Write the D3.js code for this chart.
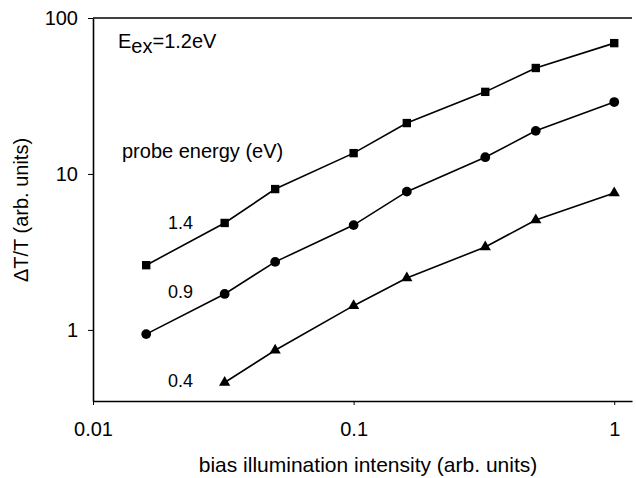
<!DOCTYPE html>
<html>
<head>
<meta charset="utf-8">
<script src="https://cdn.jsdelivr.net/npm/d3@7"></script>
<style>
  body { margin: 0; background: #fff; }
  text { font-family: "Liberation Sans", Arial, sans-serif; fill: #000; }
</style>
</head>
<body>
<div id="chart"></div>
<script>
// bias intensity (x) and dT/T for each probe energy
const intensity = [0.016, 0.032, 0.05, 0.1, 0.16, 0.32, 0.5, 1]
const probe14 = [2.6, 4.85, 8.0, 13.6, 21.2, 33.6, 47.8, 69]
const probe09 = [0.94, 1.7, 2.73, 4.7, 7.7, 12.8, 18.9, 28.9]
const probe04 = [null, 0.46, 0.74, 1.43, 2.15, 3.4, 5.07, 7.55]
const xTicks = [0.01, 0.1, 1]
const yTicks = [1, 10, 100]

const params = {
  width: 636,
  height: 478,
  marginTop: 18,
  marginLeft: 93,
  marginRight: 4,
  marginBottom: 77,
}

const svg = d3.select('#chart')
  .append('svg')
  .attr('width', params.width)
  .attr('height', params.height)

const x = d3.scaleLog()
  .domain([0.01, 1.17])
  .range([params.marginLeft, params.width - params.marginRight])

const y = d3.scaleLog()
  .domain([0.35, 100])
  .range([params.height - params.marginBottom, params.marginTop])

// axes
svg.append('g')
  .attr('transform', `translate(0,${params.height - params.marginBottom})`)
  .call(d3.axisBottom(x).tickValues(xTicks).tickFormat(d3.format('')).tickSize(4).tickSizeOuter(0))
  .call(g => g.selectAll('text').attr('font-size', 20).attr('y', 21).attr('dy', '0.71em'))

svg.append('g')
  .attr('transform', `translate(${params.marginLeft},0)`)
  .call(d3.axisLeft(y).tickValues(yTicks).tickFormat(d3.format('')).tickSize(5).tickSizeOuter(0))
  .call(g => g.selectAll('text').attr('font-size', 20).attr('x', -15))

svg.selectAll('.domain').attr('stroke-width', 1.6)

// top frame line
svg.append('line')
  .attr('x1', x(0.01)).attr('x2', x(1.17))
  .attr('y1', y(100)).attr('y2', y(100))
  .attr('stroke', '#000')
  .attr('stroke-width', 1.4)

const series = [
  { values: probe14, shape: d3.symbolSquare, size: 70 },
  { values: probe09, shape: d3.symbolCircle, size: 75 },
  { values: probe04, shape: d3.symbolTriangle, size: 55 },
]

const line = d3.line()
  .defined(d => d[1] != null)
  .x(d => x(d[0]))
  .y(d => y(d[1]))

series.forEach(s => {
  const pts = intensity.map((v, i) => [v, s.values[i]])
  svg.append('path')
    .attr('d', line(pts))
    .attr('fill', 'none')
    .attr('stroke', '#000')
    .attr('stroke-width', 1.6)

  svg.selectAll(null)
    .data(pts.filter(d => d[1] != null))
    .enter()
    .append('path')
    .attr('d', d3.symbol().type(s.shape).size(s.size))
    .attr('transform', d => `translate(${x(d[0])},${y(d[1])})`)
    .attr('fill', '#000')
})

// annotations
const ann = svg.append('text')
  .attr('x', 118).attr('y', 48)
  .attr('font-size', 20)
ann.append('tspan').text('E')
ann.append('tspan').text('ex').attr('dy', 5)
ann.append('tspan').text('=1.2eV').attr('dy', -5)

svg.append('text')
  .attr('x', 122).attr('y', 158)
  .attr('font-size', 20)
  .text('probe energy (eV)')

const seriesLabels = [['1.4', 229], ['0.9', 298], ['0.4', 387]]
svg.selectAll('.lbl')
  .data(seriesLabels)
  .enter()
  .append('text')
  .attr('x', 168)
  .attr('y', d => d[1])
  .attr('font-size', 18)
  .text(d => d[0])

// axis titles
svg.append('text')
  .attr('x', 368)
  .attr('y', 472)
  .attr('text-anchor', 'middle')
  .attr('font-size', 21)
  .text('bias illumination intensity (arb. units)')

svg.append('text')
  .attr('transform', 'translate(28,210) rotate(-90)')
  .attr('text-anchor', 'middle')
  .attr('font-size', 20)
  .text('ΔT/T (arb. units)')
</script>
</body>
</html>
